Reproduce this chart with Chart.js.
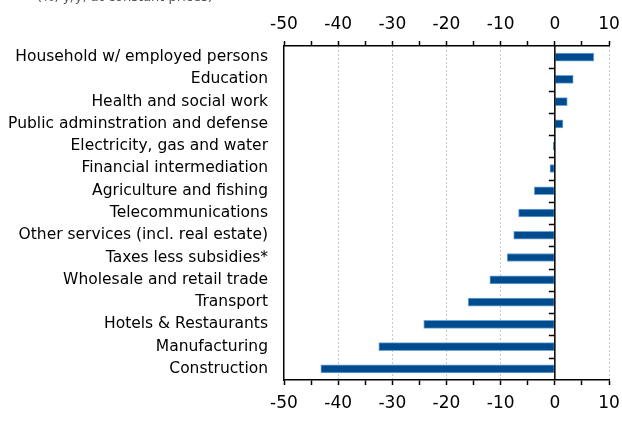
<!DOCTYPE html>
<html>
<head>
<meta charset="utf-8">
<script src="https://cdn.jsdelivr.net/npm/chart.js@4/dist/chart.umd.min.js"></script>
<style>
  html, body { margin: 0; padding: 0; background: #fff; }
  #wrap { width: 622px; height: 425px; position: relative; }
</style>
</head>
<body>
<div id="wrap"><canvas id="chart"></canvas></div>
<script>
const sectors = [
  'Household w/ employed persons', 'Education', 'Health and social work',
  'Public adminstration and defense', 'Electricity, gas and water',
  'Financial intermediation', 'Agriculture and fishing', 'Telecommunications',
  'Other services (incl. real estate)', 'Taxes less subsidies*',
  'Wholesale and retail trade', 'Transport', 'Hotels & Restaurants',
  'Manufacturing', 'Construction'
];
const growth = [7.2, 3.4, 2.3, 1.5, -0.3, -0.9, -3.8, -6.7, -7.6, -8.8, -12.0, -16.0, -24.2, -32.5, -43.2];
const axisMin = -50, axisMax = 10;
const subtitle = '(%, y/y, at constant prices)';

const FONT = "'DejaVu Sans', sans-serif";

// tick marks on the zero line between categories + cut-off subtitle
const extras = {
  id: 'extras',
  afterDraw(chart) {
    const { ctx, scales } = chart;
    const y = scales.y, x = scales.x;
    const x0 = x.getPixelForValue(0);
    const half = (y.getPixelForValue(1) - y.getPixelForValue(0)) / 2;
    ctx.save();
    ctx.strokeStyle = '#000';
    ctx.lineWidth = 1.5;
    ctx.beginPath();
    ctx.moveTo(x0, y.top);
    ctx.lineTo(x0, y.bottom);
    for (let i = 1; i < sectors.length; i++) {
      const py = Math.round(y.getPixelForValue(i) - half) + 0.5;
      ctx.moveTo(x0 - 6, py);
      ctx.lineTo(x0, py);
    }
    ctx.stroke();
    ctx.fillStyle = '#555';
    ctx.font = '13px ' + FONT;
    ctx.textBaseline = 'alphabetic';
    ctx.fillText(subtitle, 37, 1);
    ctx.restore();
  }
};

const xTicks = {
  color: '#000',
  font: { family: FONT, size: 17 },
  stepSize: 5,
  autoSkip: false,
  maxRotation: 0,
  callback: v => (v % 10 === 0 ? v : '')
};

// keep plot edges fixed regardless of tick label overhang
const noSidePad = s => { s.paddingLeft = 0; s.paddingRight = 0; };

new Chart(document.getElementById('chart'), {
  type: 'bar',
  data: {
    labels: sectors,
    datasets: [{
      data: growth,
      backgroundColor: '#004b8d',
      borderColor: '#6fa6d8',
      borderWidth: 1,
      borderSkipped: false,
      barThickness: 8
    }]
  },
  options: {
    indexAxis: 'y',
    responsive: true,
    maintainAspectRatio: false,
    animation: false,
    layout: { padding: { left: 0, right: 13, top: 0, bottom: 0 } },
    plugins: { legend: { display: false }, tooltip: { enabled: false } },
    scales: {
      x: {
        position: 'bottom',
        min: axisMin, max: axisMax,
        ticks: { ...xTicks, padding: 8 },
        grid: {
          drawOnChartArea: true,
          tickLength: 5,
          color: c => (c.tick && c.tick.value % 10 === 0 && c.tick.value !== axisMin && c.tick.value !== 0) ? '#c8c8c8' : 'rgba(0,0,0,0)',
          tickColor: '#000',
          tickWidth: 1.5
        },
        border: { display: true, color: '#000', width: 1.5, dash: [2, 2] },
        afterFit: s => { s.height = 45; noSidePad(s); }
      },
      x2: {
        position: 'top',
        min: axisMin, max: axisMax,
        ticks: { ...xTicks, padding: 6 },
        grid: { drawOnChartArea: false, tickLength: 5, tickColor: '#000', tickWidth: 1.5 },
        border: { display: true, color: '#000', width: 1.5 },
        afterFit: s => { s.height = 46; noSidePad(s); }
      },
      y: {
        position: 'left',
        ticks: { color: '#000', font: { family: FONT, size: 15.5 }, padding: 16, autoSkip: false },
        grid: { display: false, drawTicks: false },
        border: { display: true, color: '#000', width: 1.5 },
        afterFit: s => { s.width = 284; s.paddingTop = 0; s.paddingBottom = 0; }
      }
    }
  },
  plugins: [extras]
});
</script>
</body>
</html>
